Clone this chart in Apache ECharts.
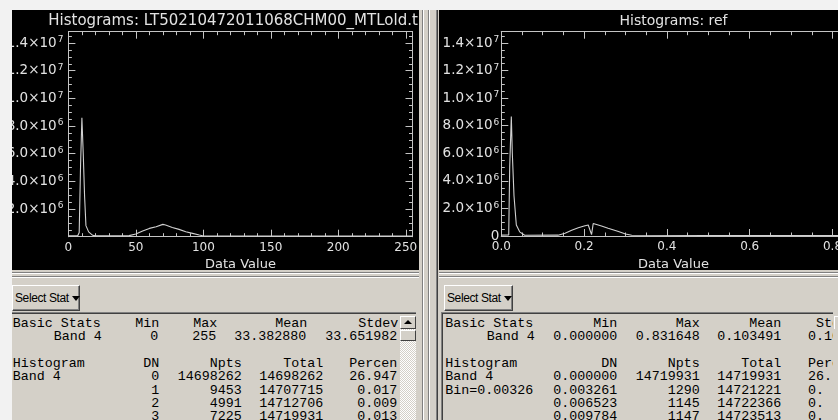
<!DOCTYPE html>
<html><head><meta charset="utf-8">
<script src="https://cdn.jsdelivr.net/npm/echarts/dist/echarts.min.js"></script>
<style>
html,body{margin:0;padding:0;}
body{width:838px;height:420px;overflow:hidden;background:#f2f2f2;position:relative;font-family:"Liberation Sans",Arial,sans-serif;}
.win{position:absolute;top:10px;height:410px;overflow:hidden;background:#d4d0c8;}
.plot{position:absolute;left:0;top:0;height:260px;width:100%;background:#000;overflow:hidden;}
.hl{position:absolute;left:0;width:100%;height:1px;}
.btn{position:absolute;top:275px;height:26px;background:#d4d0c8;box-sizing:border-box;
 border-top:1px solid #fff;border-left:1px solid #fff;border-right:1px solid #404040;border-bottom:1px solid #404040;
 box-shadow:inset -1px -1px 0 #808080;font:12px "Liberation Sans",Arial,sans-serif;letter-spacing:-0.4px;line-height:24px;padding-left:2px;color:#000;white-space:nowrap;}
.btn .tri{display:inline-block;width:0;height:0;border-left:4px solid transparent;border-right:4px solid transparent;border-top:5px solid #000;margin-left:3px;vertical-align:1px;}
.ta{position:absolute;top:302px;height:120px;box-sizing:border-box;border-top:1px solid #808080;border-left:1px solid #808080;overflow:hidden;}
.ta .in{position:absolute;left:0;top:0;right:0;bottom:0;border-top:1px solid #404040;border-left:1px solid #404040;}
.t{position:absolute;font:13.33px "Liberation Mono","Courier New",monospace;line-height:13.4px;color:#000;white-space:pre;}
.r{transform:translateX(-100%);}
.vl{position:absolute;top:0;height:410px;width:1px;}
</style>
</head><body>

<div class="win" id="lw" style="left:12px;width:407px;">
  <div class="plot"><div id="c1" style="position:absolute;left:0;top:0;width:407px;height:260px;"></div></div>
  <div class="hl" style="top:262px;background:#808080"></div>
  <div class="hl" style="top:263px;background:#fff"></div>
  <div class="hl" style="top:266px;background:#808080"></div>
  <div class="hl" style="top:267px;background:#fff"></div>
  <div class="btn" style="left:0;width:68px;">Select Stat<span class="tri"></span></div>
  <div class="ta" id="lta" style="left:-2px;width:406px;"><div class="in"></div></div>
</div>

<div id="div" style="position:absolute;left:419px;top:10px;width:20px;height:410px;background:#d4d0c8;">
  <div class="vl" style="left:3px;background:#808080"></div>
  <div class="vl" style="left:4px;background:#fff"></div>
  <div class="vl" style="left:9px;background:#808080"></div>
  <div class="vl" style="left:10px;background:#fff"></div>
  <div class="vl" style="left:17px;background:#808080"></div>
  <div class="vl" style="left:18px;background:#404040"></div>
</div>

<div class="win" id="rw" style="left:439px;width:399px;">
  <div class="plot"><div id="c2" style="position:absolute;left:0;top:0;width:420px;height:260px;"></div></div>
  <div class="hl" style="top:262px;background:#808080"></div>
  <div class="hl" style="top:263px;background:#fff"></div>
  <div class="hl" style="top:266px;background:#808080"></div>
  <div class="hl" style="top:267px;background:#fff"></div>
  <div class="btn" style="left:5px;width:69px;">Select Stat<span class="tri"></span></div>
  <div class="ta" id="rta" style="left:2px;width:392px;"><div class="in"></div></div>
</div>

<script>
// ---------- data ----------
const leftTitle = "Histograms: LT50210472011068CHM00_MTLold.tif";
const rightTitle = "Histograms: ref";
const axisName = "Data Value";
// left histogram (DN value, pixel count)
const leftDN    = [0, 7, 8, 9, 10, 11, 12, 13, 15, 18, 20, 45, 50, 55, 60, 65, 70, 72, 77, 82, 87, 92, 97, 100, 150, 200, 255];
const leftCount = [60000, 80000, 300000, 5100000, 8600000, 6000000, 2900000, 800000, 350000, 100000, 60000, 80000, 190000, 410000, 600000, 720000, 890000, 840000, 670000, 530000, 360000, 240000, 120000, 50000, 40000, 40000, 40000];
// right histogram (reflectance, pixel count)
const rightVal   = [0, 0.0179, 0.0203, 0.0242, 0.0266, 0.0307, 0.0363, 0.0444, 0.0565, 0.137, 0.154, 0.170, 0.186, 0.200, 0.210, 0.218, 0.222, 0.225, 0.242, 0.258, 0.283, 0.300, 0.315, 0.5, 0.7, 0.831648];
const rightCount = [60000, 80000, 5000000, 8660000, 6000000, 2900000, 800000, 300000, 50000, 60000, 200000, 420000, 600000, 720000, 800000, 100000, 900000, 900000, 720000, 560000, 320000, 150000, 50000, 40000, 40000, 40000];
const yMax = 14820000;
// stats tables
const leftHead1  = ["Basic Stats", "Min", "Max", "Mean", "Stdev"];
const leftStat1  = ["Band 4", "0", "255", "33.382880", "33.651982"];
const leftHead2  = ["Histogram", "DN", "Npts", "Total", "Percen"];
const leftRows   = [["Band 4", "0", "14698262", "14698262", "26.947"],
                    ["", "1", "9453", "14707715", "0.017"],
                    ["", "2", "4991", "14712706", "0.009"],
                    ["", "3", "7225", "14719931", "0.013"]];
const rightHead1 = ["Basic Stats", "Min", "Max", "Mean", "Stdev"];
const rightStat1 = ["Band 4", "0.000000", "0.831648", "0.103491", "0.10"];
const rightHead2 = ["Histogram", "DN", "Npts", "Total", "Percen"];
const rightRows  = [["Band 4", "0.000000", "14719931", "14719931", "26."],
                    ["Bin=0.00326", "0.003261", "1290", "14721221", "0."],
                    ["", "0.006523", "1145", "14722366", "0."],
                    ["", "0.009784", "1147", "14723513", "0."]];

// ---------- charts ----------
const AX = '#c4c4c4', LB = '#e2e2e2', FONT = 'DejaVu Sans';
function supLabel(zero) {
  return function (v) {
    if (v === 0) return zero;
    const e = Math.floor(Math.log10(v) + 1e-9);
    const m = v / Math.pow(10, e);
    return '{m|' + m.toFixed(1) + '×10}{s|' + e + '}';
  };
}
function makeOption(c) {
  const xa = (pos, interval, len, lab) => ({
    type: 'value', min: c.xMin, max: c.xMax, interval: interval, position: pos,
    axisLine: { show: true, onZero: false, lineStyle: { color: AX, width: 1 } },
    axisTick: { show: true, inside: true, length: len, lineStyle: { color: AX, width: 1 } },
    axisLabel: lab ? { show: true, color: LB, fontFamily: FONT, fontSize: 12, margin: 5, showMaxLabel: false, formatter: c.xFmt } : { show: false },
    name: lab ? axisName : '', nameLocation: 'middle', nameGap: 12,
    nameTextStyle: { color: LB, fontFamily: FONT, fontSize: 13 },
    splitLine: { show: false }
  });
  const ya = (pos, interval, len, lab) => ({
    type: 'value', min: 0, max: yMax, interval: interval, position: pos,
    axisLine: { show: true, onZero: false, lineStyle: { color: AX, width: 1 } },
    axisTick: { show: true, inside: true, length: len, lineStyle: { color: AX, width: 1 } },
    axisLabel: lab ? { show: true, color: LB, fontFamily: FONT, fontSize: 13.5, margin: c.yMargin, showMaxLabel: false,
      formatter: supLabel(c.zero),
      rich: { m: { color: LB, fontFamily: FONT, fontSize: 13.5, lineHeight: 15 },
              s: { color: LB, fontFamily: FONT, fontSize: 9, lineHeight: 15, verticalAlign: 'top', padding: [0, 0, 0, 1] } } } : { show: false },
    splitLine: { show: false }
  });
  return {
    animation: false,
    backgroundColor: '#000',
    grid: { left: c.gl, right: c.gr, top: c.gt, bottom: c.gb, containLabel: false, outerBoundsMode: 'none' },
    xAxis: [xa('bottom', c.xMajor, 7, true), xa('bottom', c.xMinor, 3.5, false), xa('top', c.xMajor, 7, false), xa('top', c.xMinor, 3.5, false)],
    yAxis: [ya('left', 2000000, 7, true), ya('left', 500000, 3.5, false), ya('right', 2000000, 7, false), ya('right', 500000, 3.5, false)],
    graphic: [{ type: 'text', x: c.tx, y: 11, style: { text: c.title, fill: LB, font: c.tfont, align: c.talign, verticalAlign: 'middle' } }],
    series: [{ type: 'line', xAxisIndex: 0, yAxisIndex: 0, showSymbol: false, symbol: 'none',
      lineStyle: { color: '#d0d0d0', width: 1.1 }, data: c.data, clip: true }]
  };
}
const c1 = echarts.init(document.getElementById('c1'), null, { renderer: 'canvas' });
c1.setOption(makeOption({
  xMin: 0, xMax: 255, xMajor: 50, xMinor: 10, xFmt: v => String(Math.round(v)),
  gl: 56.4, gr: 6.5, gt: 21.7, gb: 33.3, yMargin: 5, zero: '',
  tx: 36.3, talign: 'left', tfont: '15px DejaVu Sans', title: leftTitle,
  data: leftDN.map((d, i) => [d, leftCount[i]])
}));
const c2 = echarts.init(document.getElementById('c2'), null, { renderer: 'canvas' });
c2.setOption(makeOption({
  xMin: 0, xMax: 0.831648, xMajor: 0.2, xMinor: 0.05, xFmt: v => v.toFixed(1),
  gl: 62.3, gr: 13.4, gt: 21.7, gb: 34, yMargin: 2, zero: '0',
  tx: 234.5, talign: 'center', tfont: '14px DejaVu Sans', title: rightTitle,
  data: rightVal.map((d, i) => [d, rightCount[i]])
}));

// ---------- stats text ----------
const ROW0 = 316.5, ROWH = 13.4, TA_TOP = 313;
function put(ta, offX, text, x, row, right) {
  if (!text) return;
  const s = document.createElement('div');
  s.className = 't' + (right ? ' r' : '');
  s.textContent = text;
  s.style.left = (x - offX) + 'px';
  s.style.top = (ROW0 + row * ROWH - TA_TOP) + 'px';
  ta.appendChild(s);
}
(function () {
  // left panel; text-area content left edge page x = 11
  const ta = document.getElementById('lta'); const off = 11, L = 12.7;
  const c1 = [159.3, 217.3, 307.3, 398.3], c2 = [159.3, 241.7, 323.3, 397.3];
  put(ta, off, leftHead1[0], L, 0, false);
  for (let i = 1; i < 5; i++) put(ta, off, leftHead1[i], c1[i - 1], 0, true);
  put(ta, off, leftStat1[0], 101.7, 1, true);
  for (let i = 1; i < 5; i++) put(ta, off, leftStat1[i], c1[i - 1] - 1, 1, true);
  put(ta, off, leftHead2[0], L, 3, false);
  for (let i = 1; i < 5; i++) put(ta, off, leftHead2[i], c2[i - 1], 3, true);
  leftRows.forEach((r, k) => {
    put(ta, off, r[0], L, 4 + k, false);
    for (let i = 1; i < 5; i++) put(ta, off, r[i], c2[i - 1], 4 + k, true);
  });
  // right panel; text-area content left edge page x = 442
  const tb = document.getElementById('rta'); const offR = 442, LR = 445.3, c = [617.3, 699.7, 781.3];
  put(tb, offR, rightHead1[0], LR, 0, false); for (let i = 1; i < 4; i++) put(tb, offR, rightHead1[i], c[i - 1], 0, true); put(tb, offR, rightHead1[4], 816, 0, false);
  put(tb, offR, rightStat1[0], 534.7, 1, true); for (let i = 1; i < 4; i++) put(tb, offR, rightStat1[i], c[i - 1], 1, true); put(tb, offR, rightStat1[4], 808, 1, false);
  put(tb, offR, rightHead2[0], LR, 3, false); for (let i = 1; i < 4; i++) put(tb, offR, rightHead2[i], c[i - 1], 3, true); put(tb, offR, rightHead2[4], 808, 3, false);
  rightRows.forEach((r, k) => { put(tb, offR, r[0], LR, 4 + k, false); for (let i = 1; i < 4; i++) put(tb, offR, r[i], c[i - 1], 4 + k, true); put(tb, offR, r[4], 808, 4 + k, false); });
  // scrollbars
  const ls = document.createElement('div');
  ls.style.cssText = 'position:absolute;left:388px;top:306px;width:16px;height:110px;background:repeating-conic-gradient(#ffffff 0 25%,#d4d0c8 0 50%) 0 0/2px 2px;';
  ls.innerHTML = '<div style="position:absolute;left:0;top:0;width:16px;height:13px;box-sizing:border-box;background:#d4d0c8;border-top:1px solid #fff;border-left:1px solid #fff;border-right:1px solid #404040;border-bottom:1px solid #404040;"><div style="position:absolute;left:3px;top:3px;width:0;height:0;border-left:4px solid transparent;border-right:4px solid transparent;border-bottom:4px solid #000;"></div></div><div style="position:absolute;left:0;top:14px;width:16px;height:11px;box-sizing:border-box;background:#d4d0c8;border-top:1px solid #fff;border-left:1px solid #fff;border-right:1px solid #404040;border-bottom:1px solid #404040;"></div>';
  document.getElementById('lw').appendChild(ls);
  const rs = document.createElement('div');
  rs.style.cssText = 'position:absolute;left:395px;top:306px;width:16px;height:13px;box-sizing:border-box;background:#d4d0c8;border-top:1px solid #fff;border-left:1px solid #fff;';
  document.getElementById('rw').appendChild(rs);
})();
</script>
</body></html>
